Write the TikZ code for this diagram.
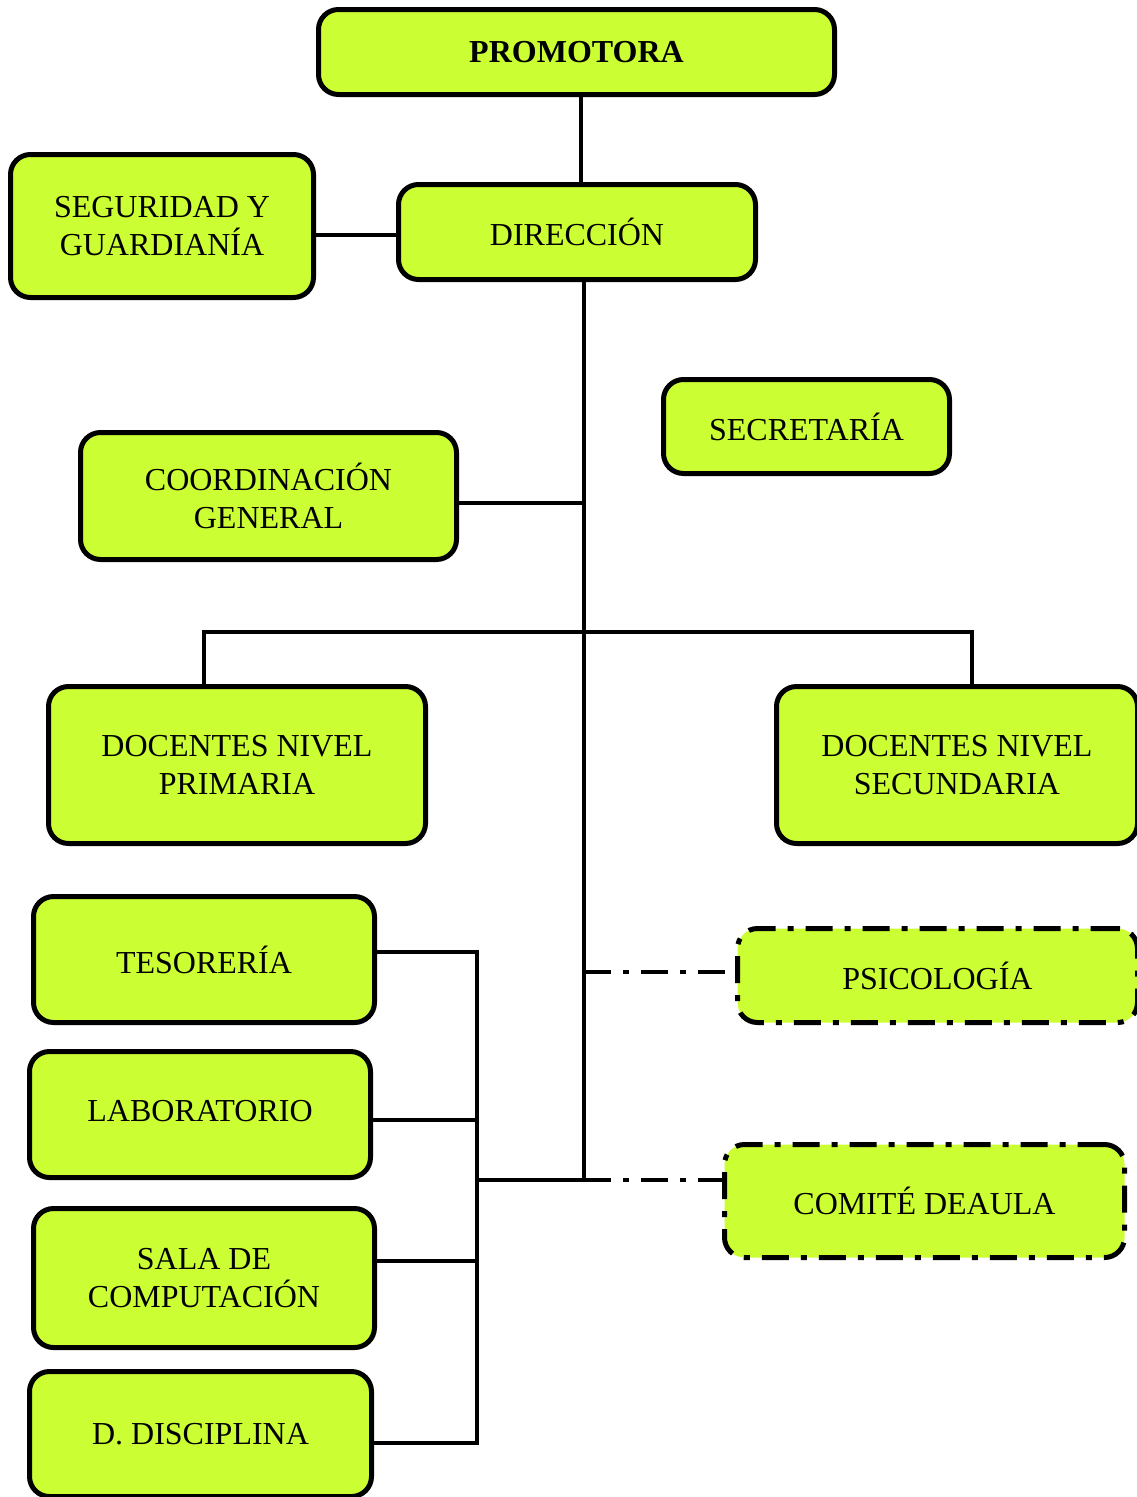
\documentclass[tikz,border=0pt]{standalone}
\usepackage{fontspec}
\setmainfont{Liberation Serif}
\definecolor{boxfill}{HTML}{CCFF33}
\tikzset{
  box/.style={draw=black, line width=5pt, rounded corners=20pt, fill=boxfill,
    align=center, font=\fontsize{32}{38}\selectfont, inner sep=0pt},
  dbox/.style={box, dash pattern=on 27pt off 12pt on 6pt off 12pt},
  conn/.style={line width=4.5pt, draw=black},
  dconn/.style={conn, dash pattern=on 27pt off 12pt on 6pt off 12pt},
}
\begin{document}
\begin{tikzpicture}[x=1pt,y=-1pt]
\useasboundingbox (0,0) rectangle (1136,1497);
% nodes
\node[box, minimum width=516pt, minimum height=85pt] (prom) at (576.5,52) {\textbf{PROMOTORA}};
\node[box, minimum width=357pt, minimum height=95pt] (dir) at (577,232) {DIRECCIÓN};
\node[box, minimum width=303pt, minimum height=143pt] (seg) at (162,226) {SEGURIDAD Y\\GUARDIANÍA};
\node[box, minimum width=286pt, minimum height=94pt] (sec) at (806.5,426.5) {SECRETARÍA};
\node[box, minimum width=376pt, minimum height=127pt] (coord) at (268.5,496) {COORDINACIÓN\\GENERAL};
\node[box, minimum width=377pt, minimum height=157pt] (prim) at (237,765) {DOCENTES NIVEL\\PRIMARIA};
\node[box, minimum width=361pt, minimum height=157pt] (secu) at (957,765) {DOCENTES NIVEL\\SECUNDARIA};
\node[box, minimum width=341pt, minimum height=126pt] (tes) at (204,959.5) {TESORERÍA};
\node[box, minimum width=341pt, minimum height=126pt] (lab) at (200,1114.5) {\raisebox{8pt}{LABORATORIO}};
\node[box, minimum width=341pt, minimum height=139pt] (sala) at (204,1278) {SALA DE\\COMPUTACIÓN};
\node[box, minimum width=342pt, minimum height=125pt] (disc) at (200.5,1434) {D. DISCIPLINA};
\node[dbox, minimum width=400pt, minimum height=94pt] (psic) at (937.5,975.5) {\raisebox{-7pt}{PSICOLOGÍA}};
\node[dbox, minimum width=400pt, minimum height=113pt] (com) at (924.5,1201) {COMITÉ DEAULA};
% helper coordinates
\coordinate (tbot) at (584,1180);
\coordinate (barL) at (204,632);
\coordinate (barR) at (972,632);
\coordinate (bkT) at (477,952);
\coordinate (bkB) at (477,1443);
% connectors
\draw[conn] ([xshift=4.5pt]prom.south) -- ([xshift=4.5pt]prom.south |- dir.north);
\draw[conn] (seg.east |- 0,235) -- (dir.west |- 0,235);
\draw[conn] (dir.south -| tbot) -- (tbot);
\draw[conn] (coord.east |- 0,503) -- (tbot |- 0,503);
\draw[conn] (prim.north -| barL) -- (barL) -- (barR) -- (secu.north -| barR);
\draw[conn] (tes.east |- bkT) -- (bkT) -- (bkB) -- (disc.east |- bkB);
\draw[conn] (lab.east |- 0,1120) -- (bkT |- 0,1120);
\draw[conn] (sala.east |- 0,1261) -- (bkT |- 0,1261);
\draw[conn] (bkT |- tbot) -- (tbot);
\draw[dconn] (tbot |- 0,972) -- (psic.west |- 0,972);
\draw[dconn] (tbot) -- (com.west |- tbot);
\end{tikzpicture}
\end{document}
